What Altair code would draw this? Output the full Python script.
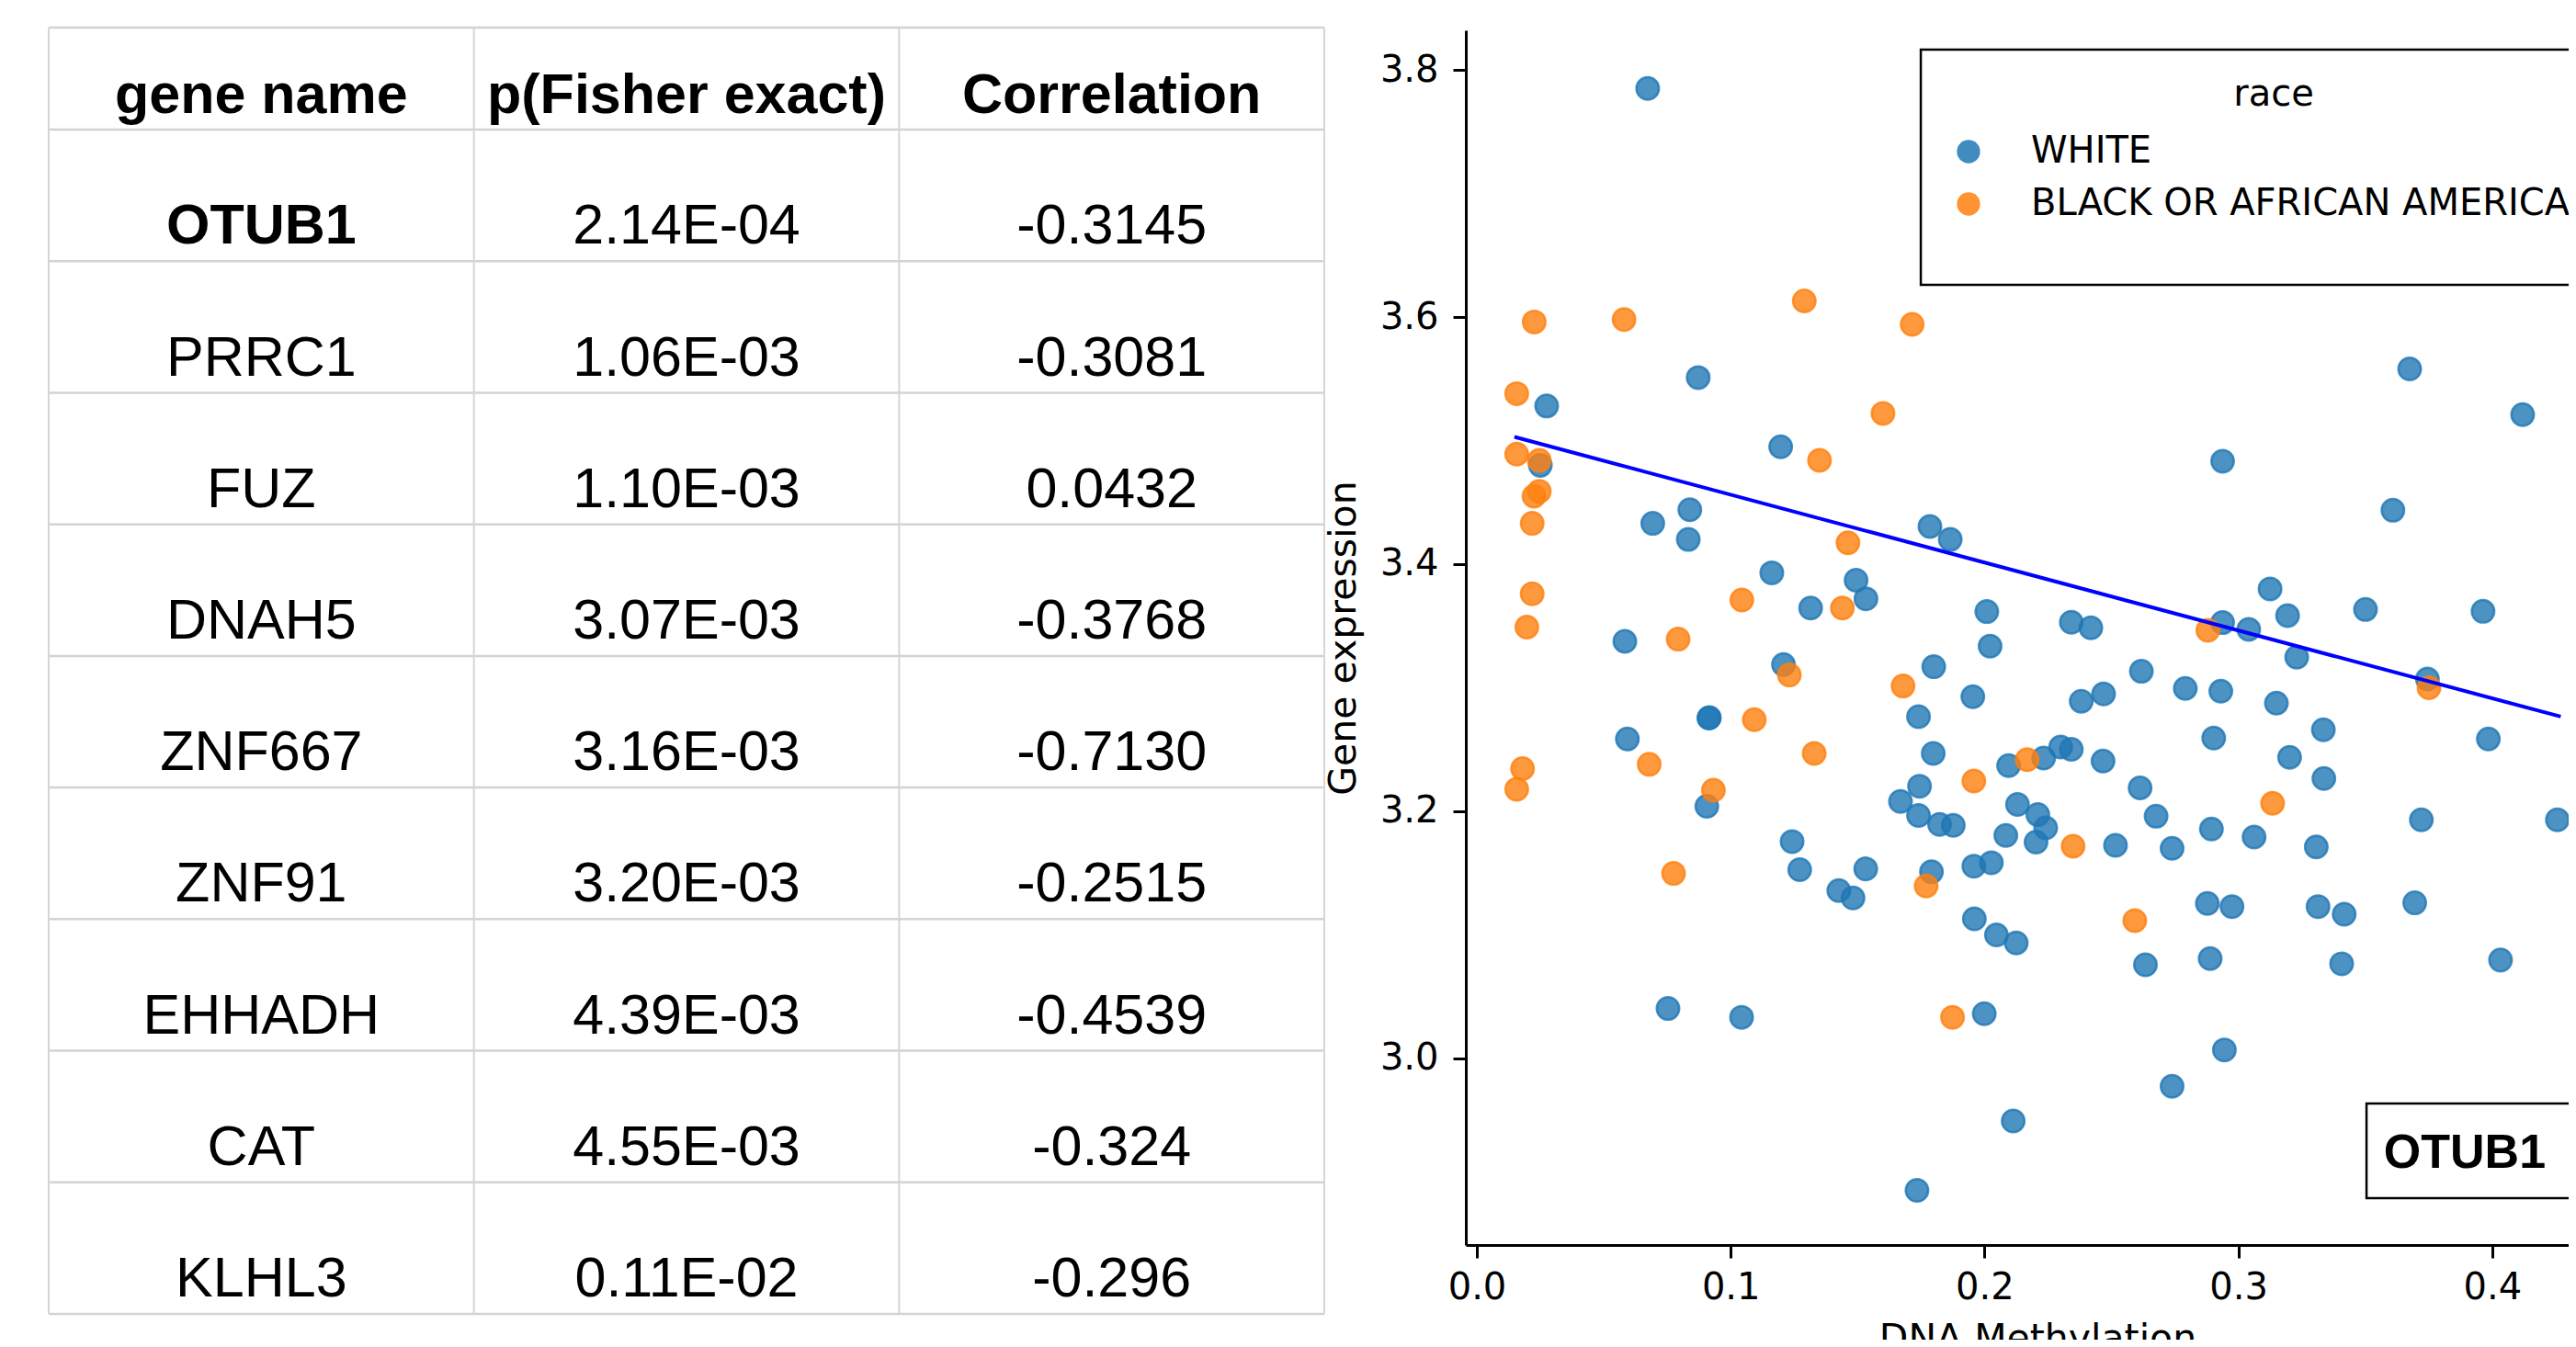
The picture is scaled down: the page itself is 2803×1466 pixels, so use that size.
import altair as alt
import pandas as pd

# ---------------- table content ----------------
headers = ["gene name", "p(Fisher exact)", "Correlation"]
genes = ["OTUB1", "PRRC1", "FUZ", "DNAH5", "ZNF667", "ZNF91", "EHHADH", "CAT", "KLHL3"]
p_fisher = ["2.14E-04", "1.06E-03", "1.10E-03", "3.07E-03", "3.16E-03",
            "3.20E-03", "4.39E-03", "4.55E-03", "0.11E-02"]
correlation = ["-0.3145", "-0.3081", "0.0432", "-0.3768", "-0.7130",
               "-0.2515", "-0.4539", "-0.324", "-0.296"]
highlight_gene = "OTUB1"

# ---------------- scatter content ----------------
white_x = [0.0673, 0.0872, 0.0275, 0.3675, 0.412, 0.1197, 0.025, 0.0839, 0.0693, 0.0833,
           0.1785, 0.1865, 0.1162, 0.1494, 0.1533, 0.1315, 0.2009, 0.2022, 0.0583, 0.1208,
           0.180, 0.1954, 0.174, 0.0914, 0.0916, 0.0593, 0.1798, 0.2095, 0.2938, 0.3609,
           0.3125, 0.2342, 0.2419, 0.2938, 0.3041, 0.3194, 0.3501, 0.3964, 0.323, 0.3745,
           0.2618, 0.2381, 0.2469, 0.2791, 0.2931, 0.315, 0.2903, 0.3335, 0.3985, 0.3202,
           0.3337, 0.2233, 0.230, 0.2342, 0.2467, 0.2613, 0.2676, 0.213, 0.221, 0.2241,
           0.2203, 0.2516, 0.2739, 0.2894, 0.3062, 0.3307, 0.3721, 0.4257, 0.2878, 0.2975,
           0.3314, 0.3417, 0.3695, 0.2125, 0.2634, 0.2889, 0.3407, 0.4033, 0.2945, 0.2739,
           0.2113, 0.0906, 0.1744, 0.1669, 0.174, 0.1823, 0.1877, 0.2084, 0.1242, 0.1272,
           0.1532, 0.1426, 0.1482, 0.1791, 0.1958, 0.2027, 0.196, 0.2047, 0.0753, 0.1043,
           0.1999, 0.1734]
white_y = [3.785, 3.551, 3.528, 3.558, 3.521, 3.495, 3.480, 3.444, 3.433, 3.420,
           3.4305, 3.420, 3.393, 3.387, 3.372, 3.3645, 3.3616, 3.3336, 3.3375, 3.3187,
           3.317, 3.2927, 3.2766, 3.2754, 3.2758, 3.2585, 3.2468, 3.237, 3.4833, 3.4436,
           3.380, 3.353, 3.3485, 3.3527, 3.3472, 3.3584, 3.3633, 3.3618, 3.3247, 3.307,
           3.3133, 3.289, 3.295, 3.2994, 3.2972, 3.2875, 3.2593, 3.266, 3.2585, 3.2437,
           3.2266, 3.2431, 3.252, 3.2501, 3.2407, 3.2189, 3.196, 3.2055, 3.1973, 3.1866,
           3.175, 3.1725, 3.170, 3.1857, 3.1792, 3.1712, 3.1931, 3.1931, 3.1254, 3.1229,
           3.1229, 3.1167, 3.1259, 3.0935, 3.0758, 3.0808, 3.0766, 3.0796, 3.0069, 2.9775,
           2.9494, 3.204, 3.2203, 3.208, 3.1966, 3.1894, 3.1886, 3.1804, 3.1755, 3.1527,
           3.1534, 3.1358, 3.1299, 3.151, 3.1556, 3.1584, 3.113, 3.100, 3.0404, 3.0333,
           3.0362, 2.8932]
black_x = [0.0226, 0.058, 0.129, 0.1715, 0.0157, 0.16, 0.135, 0.0157, 0.0246, 0.0246,
           0.0225, 0.0218, 0.1462, 0.1044, 0.144, 0.0218, 0.0197, 0.0793, 0.1231, 0.1679,
           0.1093, 0.1329, 0.018, 0.0679, 0.2168, 0.1958, 0.288, 0.3751, 0.3135, 0.2349,
           0.2592, 0.0157, 0.0932, 0.177, 0.0775, 0.1874]
black_y = [3.596, 3.598, 3.613, 3.594, 3.538, 3.522, 3.484, 3.489, 3.484, 3.459,
           3.455, 3.433, 3.4173, 3.371, 3.3645, 3.376, 3.349, 3.3393, 3.3103, 3.3014,
           3.2741, 3.2468, 3.2345, 3.238, 3.2418, 3.2245, 3.3465, 3.300, 3.2065, 3.1717,
           3.1115, 3.2178, 3.2171, 3.1396, 3.1497, 3.0333]
race_labels = ["WHITE", "BLACK OR AFRICAN AMERICAN"]
race_colors = ["#1f77b4", "#ff7f0e"]

# fitted regression line end points
fit_x = [0.0148, 0.427]
fit_y = [3.503, 3.2766]

x_ticks = [0.0, 0.1, 0.2, 0.3, 0.4]
y_ticks = [3.0, 3.2, 3.4, 3.6, 3.8]

# annotation / legend frame positions in data units
annot_text = "OTUB1"
annot_box_x = [0.3505, 0.48]
annot_box_y = [2.9636, 2.887]
annot_text_xy = [0.3573, 2.9115]
legend_box_x = [0.1749, 0.60]
legend_box_y = [3.8164, 3.626]

# ---------------- layout ----------------
W, H = 2787, 1347
TABLE_FONT = "Liberation Sans"
PLOT_FONT = "DejaVu Sans"
HEADER_H = 0.775  # header row height in data-row units


def tx():
    return alt.Scale(domain=[0, 3], range=[45, 1433], nice=False, zero=False)


def ty():
    return alt.Scale(domain=[-HEADER_H, len(genes)], range=[22, 1422], nice=False, zero=False)


def sx():
    return alt.Scale(domain=[-0.004345, 0.43013], range=[1587, 2787], nice=False, zero=False)


def sy():
    return alt.Scale(domain=[2.849, 3.832], range=[1347, 25], nice=False, zero=False)


h_df = pd.DataFrame({"y": [-HEADER_H] + list(range(len(genes) + 1))})
h_df["x0"] = 0
h_df["x1"] = 3
v_df = pd.DataFrame({"x": [0, 1, 2, 3]})
v_df["y0"] = -HEADER_H
v_df["y1"] = len(genes)

hlines = alt.Chart(h_df).mark_rule(color="#d3d3d3", strokeWidth=2.5).encode(
    x=alt.X("x0:Q", scale=tx(), axis=None), x2="x1:Q",
    y=alt.Y("y:Q", scale=ty(), axis=None))
vlines = alt.Chart(v_df).mark_rule(color="#d6d6d6", strokeWidth=2).encode(
    x=alt.X("x:Q", scale=tx(), axis=None),
    y=alt.Y("y0:Q", scale=ty(), axis=None), y2="y1:Q")

cells = []
for c, h in enumerate(headers):
    cells.append({"x": c + 0.5, "y": -0.126, "t": h, "bold": True})
for i, (g, p, r) in enumerate(zip(genes, p_fisher, correlation)):
    cells.append({"x": 0.5, "y": i + 0.868, "t": g, "bold": g == highlight_gene})
    cells.append({"x": 1.5, "y": i + 0.868, "t": p, "bold": False})
    cells.append({"x": 2.5, "y": i + 0.868, "t": r, "bold": False})
cells_df = pd.DataFrame(cells)


def table_text(df, weight):
    return alt.Chart(df).mark_text(font=TABLE_FONT, fontSize=61, fontWeight=weight,
                                   align="center", baseline="alphabetic", color="black").encode(
        x=alt.X("x:Q", scale=tx(), axis=None),
        y=alt.Y("y:Q", scale=ty(), axis=None),
        text="t:N")


bold_text = table_text(cells_df[cells_df["bold"]], "bold")
norm_text = table_text(cells_df[~cells_df["bold"]], "normal")

# ---------------- scatter ----------------
cscale = alt.Scale(domain=race_labels, range=race_colors)

pts = pd.DataFrame({
    "x": white_x + black_x,
    "y": white_y + black_y,
    "race": [race_labels[0]] * len(white_x) + [race_labels[1]] * len(black_x),
})

xaxis = alt.Axis(values=x_ticks, format=".1f", orient="bottom", grid=False,
                 labelFont=PLOT_FONT, labelFontSize=40, labelColor="black",
                 labelPadding=12, labelFlush=False, labelOverlap=False,
                 tickSize=14, tickWidth=3, tickColor="black",
                 domainColor="black", domainWidth=3,
                 titleFont=PLOT_FONT, titleFontSize=41, titleFontWeight="normal",
                 titleColor="black", titleX=2209, titleY=82, titleBaseline="top",
                 titleAlign="center")
yaxis = alt.Axis(values=y_ticks, format=".1f", orient="left", offset=-1587, grid=False,
                 labelFont=PLOT_FONT, labelFontSize=40, labelColor="black",
                 labelPadding=16, labelFlush=False, labelOverlap=False,
                 tickSize=14, tickWidth=3, tickColor="black",
                 domainColor="black", domainWidth=3,
                 titleFont=PLOT_FONT, titleFontSize=41, titleFontWeight="normal",
                 titleColor="black", titlePadding=18)

legend = alt.Legend(orient="none", legendX=2114, legendY=75, padding=0,
                    title="race", titleFont=PLOT_FONT, titleFontSize=40,
                    titleFontWeight="normal", titleColor="black", titleAnchor="middle",
                    titlePadding=22, labelFont=PLOT_FONT, labelFontSize=40,
                    labelColor="black", labelOffset=48, labelLimit=2000,
                    rowPadding=17, symbolType="circle", symbolSize=640,
                    symbolOpacity=0.85, symbolStrokeWidth=0)

points = alt.Chart(pts).mark_circle(size=600, opacity=1, fillOpacity=0.8,
                                    strokeOpacity=0.8, strokeWidth=2.5).encode(
    x=alt.X("x:Q", scale=sx(), axis=xaxis, title="DNA Methylation"),
    y=alt.Y("y:Q", scale=sy(), axis=yaxis, title="Gene expression"),
    color=alt.Color("race:N", scale=cscale, legend=legend),
    stroke=alt.Stroke("race:N", scale=cscale, legend=None),
)

fit_df = pd.DataFrame({"x": fit_x, "y": fit_y})
fitline = alt.Chart(fit_df).mark_line(color="#0000ff", strokeWidth=4).encode(
    x=alt.X("x:Q", scale=sx(), axis=None), y=alt.Y("y:Q", scale=sy(), axis=None))

box_df = pd.DataFrame({"x": [annot_box_x[0], legend_box_x[0]],
                       "x2": [annot_box_x[1], legend_box_x[1]],
                       "y": [annot_box_y[0], legend_box_y[0]],
                       "y2": [annot_box_y[1], legend_box_y[1]]})
frames = alt.Chart(box_df).mark_rect(fill="white", stroke="black", strokeWidth=2.5).encode(
    x=alt.X("x:Q", scale=sx(), axis=None), x2="x2:Q",
    y=alt.Y("y:Q", scale=sy(), axis=None), y2="y2:Q")

annot_df = pd.DataFrame({"x": [annot_text_xy[0]], "y": [annot_text_xy[1]], "t": [annot_text]})
annot = alt.Chart(annot_df).mark_text(font=TABLE_FONT, fontSize=52, fontWeight="bold",
                                      align="left", baseline="alphabetic", color="black").encode(
    x=alt.X("x:Q", scale=sx(), axis=None), y=alt.Y("y:Q", scale=sy(), axis=None), text="t:N")

chart = alt.layer(
    hlines, vlines, bold_text, norm_text, frames, annot, points, fitline
).resolve_scale(
    x="independent", y="independent"
).properties(
    width=W, height=H,
    padding={"left": 0, "top": 0, "right": 0, "bottom": 103},
    autosize=alt.AutoSizeParams(type="none"),
).configure_view(stroke=None)

chart.save("out.html", embed_options={"renderer": "svg", "actions": False})
